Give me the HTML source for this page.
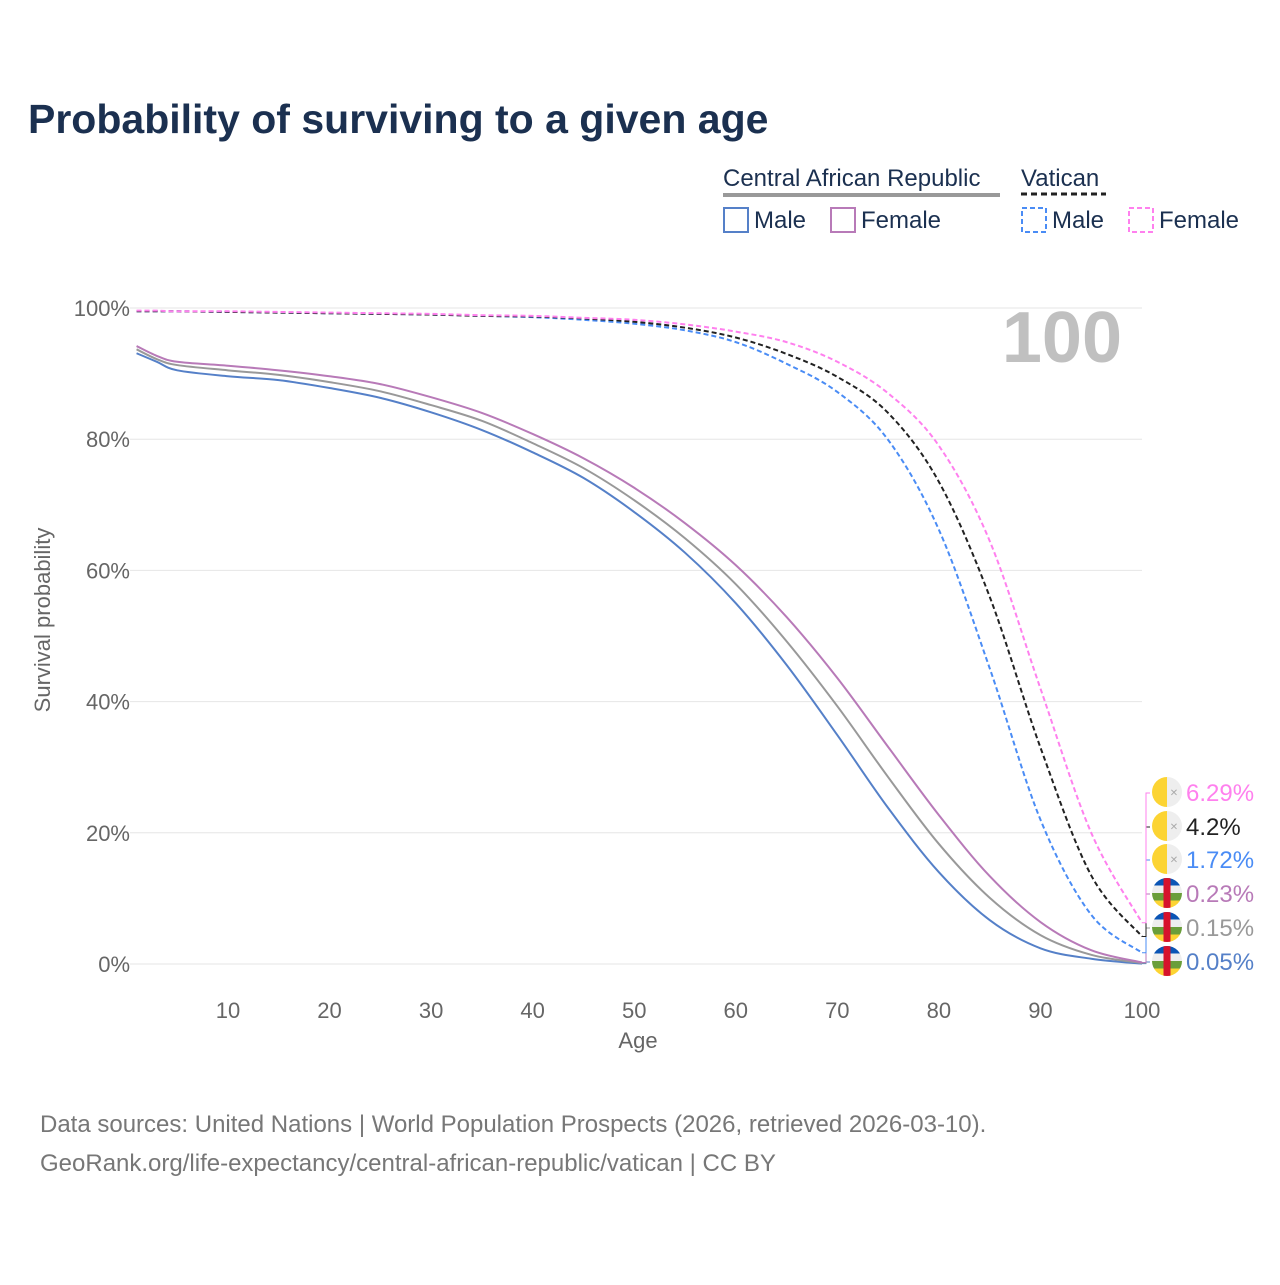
<!DOCTYPE html>
<html><head><meta charset="utf-8"><style>
body{margin:0;background:#fff;font-family:"Liberation Sans",sans-serif}
svg text{font-family:"Liberation Sans",sans-serif}
</style></head><body>
<svg id="c" width="1280" height="1280" viewBox="0 0 1280 1280">
<text x="28" y="133" font-size="41" font-weight="bold" fill="#1b3050">Probability of surviving to a given age</text>
<g font-size="24" fill="#1b3050">
<text x="723" y="186">Central African Republic</text>
<line x1="723" y1="195" x2="1000" y2="195" stroke="#999" stroke-width="4"/>
<text x="1021" y="186">Vatican</text>
<line x1="1021" y1="194" x2="1106" y2="194" stroke="#222" stroke-width="3" stroke-dasharray="6,4"/>
<rect x="724" y="208" width="24" height="24" fill="none" stroke="#5580c8" stroke-width="2"/>
<text x="754" y="228">Male</text>
<rect x="831" y="208" width="24" height="24" fill="none" stroke="#b87ab8" stroke-width="2"/>
<text x="861" y="228">Female</text>
<rect x="1022" y="208" width="24" height="24" fill="none" stroke="#4a8cf5" stroke-width="2" stroke-dasharray="5,3"/>
<text x="1052" y="228">Male</text>
<rect x="1129" y="208" width="24" height="24" fill="none" stroke="#ff80ee" stroke-width="2" stroke-dasharray="5,3"/>
<text x="1159" y="228">Female</text>
</g>
<text x="1122" y="362" font-size="72" font-weight="bold" fill="#c0c0c0" text-anchor="end">100</text>
<g id="axes"></g>
<g id="lines"></g>
<g id="labels"></g>
<text x="638" y="1048" font-size="22" fill="#666" text-anchor="middle">Age</text>
<text transform="translate(50,620) rotate(-90)" font-size="22" fill="#666" text-anchor="middle">Survival probability</text>
<text x="40" y="1132" font-size="24" fill="#777">Data sources: United Nations | World Population Prospects (2026, retrieved 2026-03-10).</text>
<text x="40" y="1171" font-size="24" fill="#777">GeoRank.org/life-expectancy/central-african-republic/vatican | CC BY</text>
</svg>
<script>
const ages=[1,3,5,10,15,20,25,30,35,40,45,50,55,60,65,70,75,80,85,90,95,100];
const carMale=[93.1,91.8,90.5,89.6,89.0,87.8,86.3,84.1,81.4,78.0,74.1,68.9,62.7,55.0,45.6,34.9,23.8,14.0,6.7,2.4,0.8,0.05];
const carTotal=[93.7,92.2,91.3,90.5,89.8,88.7,87.3,85.2,82.8,79.4,75.6,70.7,64.9,57.9,49.2,39.3,28.5,18.3,10.1,4.4,1.4,0.15];
const carFemale=[94.2,92.7,91.8,91.2,90.5,89.6,88.4,86.4,84.0,80.8,77.1,72.6,67.2,60.8,52.9,43.6,33.1,22.7,13.4,6.4,2.1,0.23];
const vatMale=[99.5,99.5,99.5,99.4,99.3,99.2,99.1,99.0,98.8,98.6,98.2,97.6,96.6,94.8,91.5,87.2,79.9,66.2,45.1,22.0,7.5,1.72];
const vatTotal=[99.5,99.5,99.5,99.4,99.3,99.2,99.1,99.0,98.8,98.7,98.4,97.9,97.0,95.5,93.0,89.5,84.0,73.5,56.0,33.0,13.5,4.2];
const vatFemale=[99.6,99.6,99.5,99.5,99.4,99.3,99.2,99.1,98.9,98.8,98.5,98.2,97.5,96.4,94.8,91.8,87.0,79.0,64.5,42.0,20.0,6.29];
const yTicks=[0,20,40,60,80,100];
const xTicks=[10,20,30,40,50,60,70,80,90,100];
const NS='http://www.w3.org/2000/svg';
const X=a=>126.4+a*(1142-126.4)/100;
const Y=p=>964-p*6.56;
function mk(t,attrs,parent){const e=document.createElementNS(NS,t);for(const k in attrs)e.setAttribute(k,attrs[k]);parent.appendChild(e);return e;}
const axes=document.getElementById('axes');
yTicks.forEach(v=>{
 const l=mk('line',{x1:130,x2:1142,y1:Y(v),y2:Y(v),stroke:'#e6e6e6','stroke-width':1},axes);
 
 
 const t=mk('text',{x:130,y:Y(v)+8,'font-size':22,fill:'#666','text-anchor':'end'},axes);t.textContent=v+'%';
 
 
});
xTicks.forEach(v=>{
 const t=mk('text',{x:X(v),y:1018,'font-size':22,fill:'#666','text-anchor':'middle'},axes);t.textContent=v;
 
 
});
function path(vals){
 const p=ages.map((a,i)=>[X(a),Y(vals[i])]);
 let d='M'+p[0][0]+','+p[0][1];
 for(let i=0;i<p.length-1;i++){
  const p0=p[Math.max(0,i-1)],p1=p[i],p2=p[i+1],p3=p[Math.min(p.length-1,i+2)];
  const c1=[p1[0]+(p2[0]-p0[0])/6,p1[1]+(p2[1]-p0[1])/6];
  const c2=[p2[0]-(p3[0]-p1[0])/6,p2[1]-(p3[1]-p1[1])/6];
  d+=' C'+c1+' '+c2+' '+p2;
 }
 return d;
}
const series=[
 {n:'car-male',v:carMale,c:'#5580c8',dash:null,flag:'car',lc:'#5580c8'},
 {n:'car-total',v:carTotal,c:'#999',dash:null,flag:'car',lc:'#999'},
 {n:'car-female',v:carFemale,c:'#b87ab8',dash:null,flag:'car',lc:'#b87ab8'},
 {n:'vatican-male',v:vatMale,c:'#4a8cf5',dash:'5,3',flag:'vat',lc:'#4a8cf5'},
 {n:'vatican-total',v:vatTotal,c:'#222',dash:'5,3',flag:'vat',lc:'#222'},
 {n:'vatican-female',v:vatFemale,c:'#ff80ee',dash:'5,3',flag:'vat',lc:'#ff80ee'}
];
const lines=document.getElementById('lines'),labels=document.getElementById('labels');
const labelY=[962,928,894,860,827,793];
series.forEach((s,i)=>{
 const a={d:path(s.v),fill:'none',stroke:s.c,'stroke-width':2};
 if(s.dash)a['stroke-dasharray']=s.dash;
 const e=mk('path',a,lines);
 
 
 const ly=labelY[i],endY=Y(s.v[s.v.length-1]);
 mk('path',{d:`M1142,${endY} L1146,${endY} L1146,${ly} L1150,${ly}`,fill:'none',stroke:s.c,'stroke-width':1},labels);
 const g=mk('g',{},labels);
 
 
 const cx=1167,cy=ly-1,r=15;
 const cid='clip'+i;
 const cp=mk('clipPath',{id:cid},g);mk('circle',{cx,cy,r},cp);
 const fg=mk('g',{'clip-path':`url(#${cid})`},g);
 if(s.flag==='vat'){
  mk('rect',{x:cx-r,y:cy-r,width:r,height:2*r,fill:'#fcd433'},fg);
  mk('rect',{x:cx,y:cy-r,width:r,height:2*r,fill:'#eee'},fg);
  mk('text',{x:cx+7,y:cy+4,'font-size':10,fill:'#aaa','text-anchor':'middle'},fg).textContent='✕';
 }else{
  const cols=['#0b55b5','#eee','#6a9e3a','#fcd433'];
  cols.forEach((c,k)=>mk('rect',{x:cx-r,y:cy-r+k*7.5,width:2*r,height:7.5,fill:c},fg));
  mk('rect',{x:cx-3.5,y:cy-r,width:7,height:2*r,fill:'#d6122c'},fg);
 }
 const t=mk('text',{x:1186,y:ly+8,'font-size':24,fill:s.lc},labels);
 t.textContent=s.v[s.v.length-1]+'%';
 
 
});
</script>
</body></html>
